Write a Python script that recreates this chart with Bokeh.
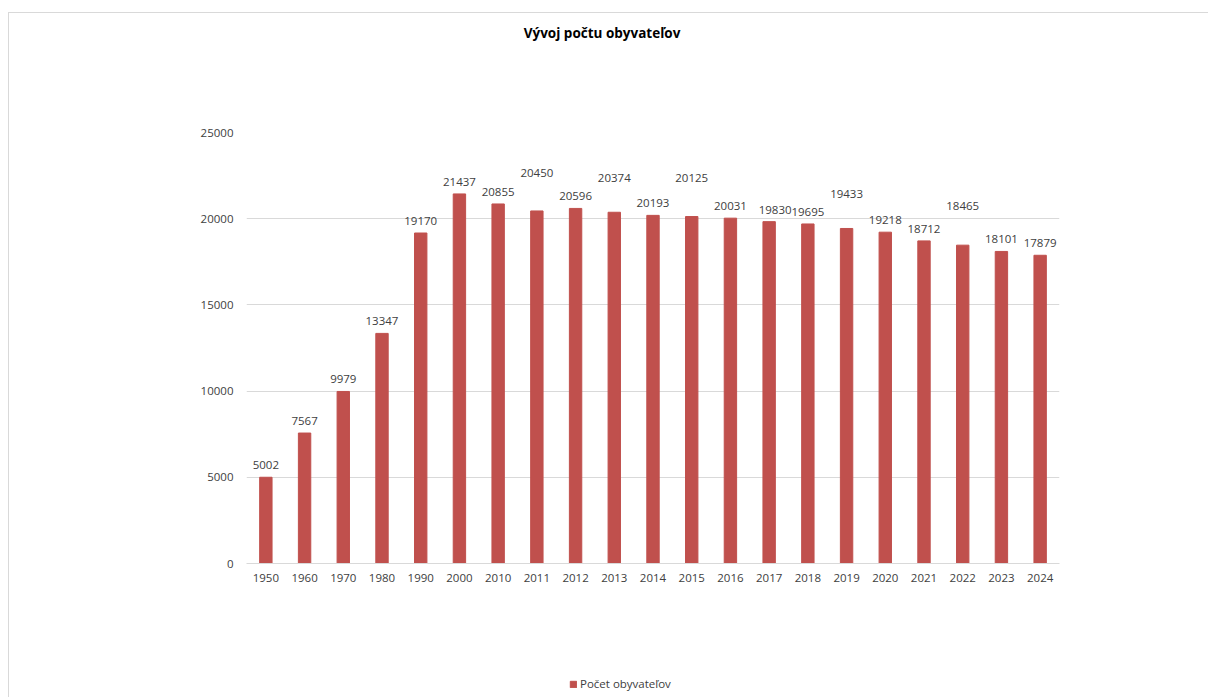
from bokeh.plotting import figure
from bokeh.layouts import column
from bokeh.models import (ColumnDataSource, LabelSet, Legend, LegendItem, FixedTicker,
                          NumeralTickFormatter, Range1d, Label)
from bokeh.core.properties import value
from bokeh.embed import file_html
from bokeh.resources import INLINE

years = ["1950", "1960", "1970", "1980", "1990", "2000", "2010", "2011", "2012", "2013",
         "2014", "2015", "2016", "2017", "2018", "2019", "2020", "2021", "2022", "2023", "2024"]
population = [5002, 7567, 9979, 13347, 19170, 21437, 20855, 20450, 20596, 20374,
              20193, 20125, 20031, 19830, 19695, 19433, 19218, 18712, 18465, 18101, 17879]
y_ticks = [0, 5000, 10000, 15000, 20000, 25000]
title_text = "Vývoj počtu obyvateľov"
series_name = "Počet obyvateľov"

# extra vertical / horizontal shift of a few data labels (as placed in the original)
label_dy = [0, 0, 0, 0, 0, 0, 0, 26, 0, 22, 0, 27, 0, 0, 0, 22, 0, 0, 27, 0, 0]
label_dx = [0, 0, 0, 0, 0, 0, 0, 0, 0, 0, 0, 0, 0, 6, 0, 0, 0, 0, 0, 0, 0]

FONT = "Open Sans"
TXT = "#404040"
BAR = "#C0504D"

src = ColumnDataSource(dict(
    year=years, pop=population, lab=[str(v) for v in population],
    yo=[12 + d for d in label_dy], xo=label_dx))

# title strip (its frame is aligned with the chart's frame by the column)
pt = figure(x_range=Range1d(0, 1), y_range=Range1d(0, 1), width=1199, height=38,
            output_backend="svg", toolbar_location=None, x_axis_type=None,
            y_axis_type=None, min_border=0)
pt.outline_line_color = None
pt.xgrid.visible = False
pt.ygrid.visible = False
pt.add_layout(Label(x=0.4373, y=0.5, text=title_text, text_align="center",
                    text_baseline="middle", text_font=FONT, text_font_size="13.5px",
                    text_font_style="bold", text_color="#000000"))

p = figure(x_range=years, y_range=(0, 25000), width=1199, height=542,
           output_backend="svg", toolbar_location=None,
           min_border_left=237, min_border_right=149, min_border_top=81,
           min_border_bottom=30)
p.outline_line_color = None
p.background_fill_color = "white"
p.border_fill_color = "white"

p.vbar(x="year", top="pop", width=0.32, source=src, fill_color=BAR, line_color=BAR)

p.yaxis.ticker = FixedTicker(ticks=y_ticks)
p.yaxis.formatter = NumeralTickFormatter(format="0")
p.yaxis.axis_line_color = None
p.yaxis.major_tick_line_color = None
p.yaxis.minor_tick_line_color = None
p.yaxis.major_tick_out = 0
p.yaxis.major_label_standoff = 13
p.xaxis.axis_line_color = "#d9d9d9"
p.xaxis.major_tick_line_color = None
p.xaxis.minor_tick_line_color = None
p.xaxis.major_tick_out = 0
p.xaxis.major_label_standoff = 10
for ax in (p.xaxis, p.yaxis):
    ax.major_label_text_font = FONT
    ax.major_label_text_font_size = "11.5px"
    ax.major_label_text_color = TXT

p.xgrid.grid_line_color = None
p.ygrid.grid_line_color = "#d9d9d9"
p.ygrid.ticker = FixedTicker(ticks=y_ticks)

labels = LabelSet(x="year", y="pop", text="lab", source=src, x_offset="xo", y_offset="yo",
                  text_align="center", text_baseline="middle", text_font=value(FONT),
                  text_font_size="11.5px", text_color=TXT)
p.add_layout(labels)

# legend strip below the chart (its frame is aligned with the chart's frame)
pl = figure(x_range=Range1d(0, 1), y_range=Range1d(0, 1), width=1199, height=104,
            output_backend="svg", toolbar_location=None, x_axis_type=None,
            y_axis_type=None, min_border=0)
pl.outline_line_color = None
pl.xgrid.visible = False
pl.ygrid.visible = False
lr = pl.vbar(x=[-10], bottom=[-20], top=[-10], width=0.3, fill_color=BAR, line_color=BAR)

legend = Legend(items=[LegendItem(label=series_name, renderers=[lr])],
                location=(323, 6), orientation="horizontal")
legend.padding = 0
legend.margin = 0
legend.border_line_color = None
legend.background_fill_alpha = 0
legend.glyph_width = 8
legend.glyph_height = 8
legend.label_standoff = 3
legend.label_text_font = FONT
legend.label_text_font_size = "11.5px"
legend.label_text_color = TXT
pl.add_layout(legend, "center")

page = column(pt, p, pl, spacing=0,
              styles={"margin-left": "8px", "margin-top": "12px",
                      "border-top": "1px solid #d9d9d9",
                      "border-left": "1px solid #d9d9d9"})

open("out.html", "w").write(file_html(page, INLINE))
